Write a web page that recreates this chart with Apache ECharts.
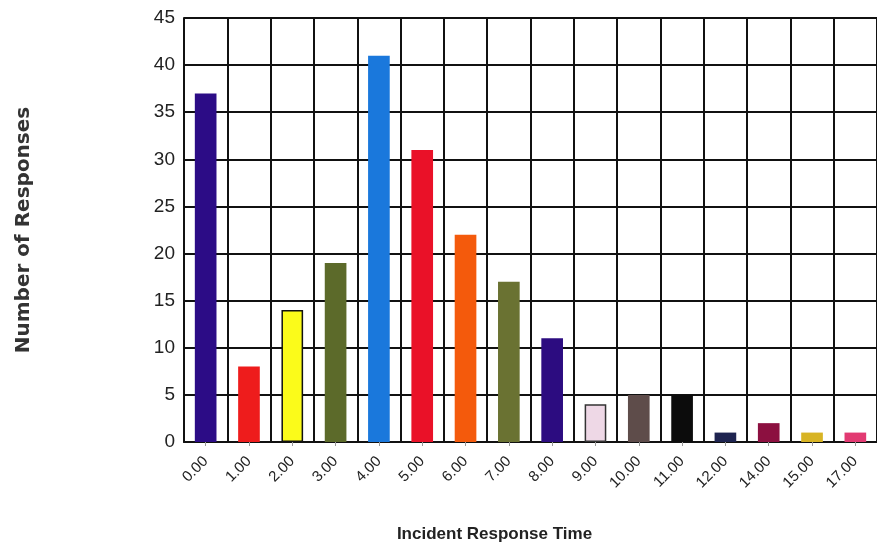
<!DOCTYPE html>
<html>
<head>
<meta charset="utf-8">
<script src="https://cdn.jsdelivr.net/npm/echarts@6/dist/echarts.min.js"></script>
<style>html,body{margin:0;padding:0;background:#fff}#c{width:877px;height:550px}</style>
</head>
<body>
<div id="c"></div>
<script>
const categories = ["0.00","1.00","2.00","3.00","4.00","5.00","6.00","7.00","8.00","9.00","10.00","11.00","12.00","14.00","15.00","17.00"];
const responses = [37, 8, 14, 19, 41, 31, 22, 17, 11, 4, 5, 5, 1, 2, 1, 1];
const barColors = ["#2c0c86","#ee1c1c","#fbfb1a","#5c6a2a","#1a78dc","#ea1128","#f45a0c","#6a7232","#2c0c80","#eed8e6","#5e4c4a","#0c0c0c","#1e2450","#8c1040","#d8b424","#e23a72"];
const barBorders = [null,null,"#111",null,null,null,null,null,null,"#333",null,null,null,null,null,null];
const yTicks = [0,5,10,15,20,25,30,35,40,45];

const chart = echarts.init(document.getElementById('c'));
chart.setOption({
  animation: false,
  backgroundColor: '#fff',
  grid: { left: 184, right: 0, top: 18, bottom: 108, containLabel: false },
  xAxis: {
    type: 'category',
    data: categories,
    name: 'Incident Response Time',
    nameLocation: 'middle',
    nameGap: 84,
    nameTextStyle: { fontFamily: 'Liberation Sans, Arial', fontWeight: 'bold', fontSize: 17, color: '#222', padding: [0, 72, 0, 0] },
    axisLine: { show: true, lineStyle: { color: '#111', width: 2 } },
    axisTick: { show: true, alignWithLabel: true, length: 4, lineStyle: { color: '#999' } },
    axisLabel: { rotate: 45, fontFamily: 'Liberation Sans, Arial', fontSize: 15, color: '#222', margin: 17 },
    splitLine: { show: true, lineStyle: { color: '#111', width: 2 } }
  },
  yAxis: {
    type: 'value',
    min: 0, max: 45, interval: 5,
    name: 'Number of Responses',
    nameLocation: 'middle',
    nameGap: 150,
    nameTextStyle: { fontFamily: 'DejaVu Sans', fontWeight: 'bold', fontSize: 20, color: '#333' },
    axisLine: { show: true, lineStyle: { color: '#111', width: 2 } },
    axisTick: { show: false },
    axisLabel: { fontFamily: 'Liberation Sans, Arial', fontSize: 19, color: '#222', margin: 9,
      formatter: v => yTicks.includes(v) ? String(v) : '' },
    splitLine: { show: true, lineStyle: { color: '#111', width: 2 } }
  },
  series: [{
    type: 'bar',
    barWidth: '50%',
    data: responses.map((v, i) => ({
      value: v,
      itemStyle: {
        color: barColors[i],
        borderColor: barBorders[i] || barColors[i],
        borderWidth: barBorders[i] ? 1.5 : 0
      }
    }))
  }]
});
</script>
</body>
</html>
